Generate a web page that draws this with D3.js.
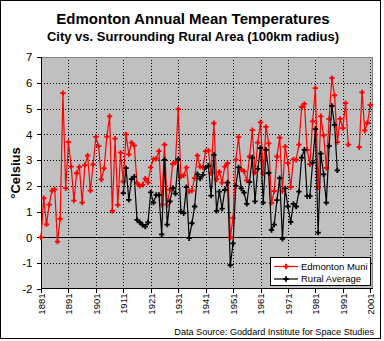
<!DOCTYPE html>
<html>
<head>
<meta charset="utf-8">
<script src="https://cdn.jsdelivr.net/npm/d3@7"></script>
<style>
    body { margin: 0; background: #fff; }
    text { font-family: Arial, "Liberation Sans", sans-serif; fill: #000; }
</style>
</head>
<body>
<div class="chart"></div>
<script>
// Annual mean temperatures (deg C), one value per year
const firstYear = 1881
const lastCategory = 2002
const decadeLabels = [1881, 1891, 1901, 1911, 1921, 1931, 1941, 1951, 1961, 1971, 1981, 1991, 2001]
const yTicks = [-2, -1, 0, 1, 2, 3, 4, 5, 6, 7]

// Edmonton Municipal, 1881-2001 (no record 1994-1996)
const muniValues = [
    0.0, 1.52, 0.51, 1.27, 1.82, 1.86, -0.16, 0.72, 5.6, 1.91,
    3.7, 2.75, 1.43, 2.49, 2.74, 1.35, 2.8, 3.17, 1.82, 2.83,
    3.9, 3.54, 2.25, 2.68, 3.91, 4.7, 1.03, 3.83, 1.26, 3.29,
    2.17, 4.0, 3.22, 3.68, 3.56, 2.12, 2.0, 2.04, 2.28, 2.14,
    2.72, 3.04, 3.06, 3.35, 1.27, 3.6, 1.27, 1.85, 2.85, 2.9,
    4.98, 2.36, 2.41, 2.71, 1.78, 1.82, 2.3, 3.17, 2.75, 2.72,
    3.35, 3.37, 2.5, 4.43, 2.25, 2.54, 2.13, 2.75, 2.88, 0.0,
    0.75, 3.02, 3.89, 2.64, 2.56, 2.21, 3.14, 4.16, 2.52, 3.68,
    4.46, 2.48, 4.29, 3.65, 1.34, 1.8, 3.14, 3.87, 1.8, 3.52,
    2.88, 1.95, 3.03, 3.01, 3.6, 5.06, 5.18, 3.4, 2.84, 4.5,
    5.79, 1.94, 4.7, 3.96, 2.7, 4.6, 6.18, 5.51, 3.7, 4.6,
    4.24, 5.21, 3.6, null, null, null, 3.5, 5.63, 4.15, 4.45,
    5.13
]

// Rural stations within 100km, 1911-1989
const ruralStart = 1911
const ruralValues = [
    1.72, 2.69, 1.46, 2.26, 2.36, 0.68, 0.59, 0.49, 0.42, 0.58,
    1.75, 1.35, 1.65, 1.65, 0.12, 3.01, 0.5, 1.4, 1.91, 1.7,
    3.04, 1.0, 0.94, 1.95, -0.03, 0.55, 1.2, 2.45, 2.28, 2.43,
    2.72, 2.78, 1.62, 3.2, 1.03, 1.78, 1.12, 1.84, 2.13, -1.07,
    -0.23, 2.0, 2.72, 1.9, 1.74, 1.3, 2.15, 3.1, 1.4, 2.66,
    3.47, 1.35, 3.4, 2.5, 0.29, 0.5, 1.45, 2.3, -0.05, 1.9,
    1.2, 0.6, 1.3, 1.2, 1.78, 3.1, 3.4, 1.6, 1.6, 2.9,
    4.2, 0.19, 3.25, 2.45, 1.35, 3.55, 5.1, 4.37, 2.6
]

const seriesNames = ['Edmonton Muni', 'Rural Average']
const seriesColors = ['#ff0000', '#000000']

class TempChart {

    constructor() {
        this.fullWidth = 384
        this.fullHeight = 341
        this.margin = {top: 57, right: 11, bottom: 52, left: 41}
        this.width = this.fullWidth - this.margin.left - this.margin.right
        this.height = this.fullHeight - this.margin.top - this.margin.bottom
        this.series = [
            muniValues.map((v, i) => ({year: firstYear + i, value: v})),
            ruralValues.map((v, i) => ({year: ruralStart + i, value: v}))
        ]
    }

    render() {
        this.svg = d3.select('.chart').append('svg')
            .attr('width', this.fullWidth)
            .attr('height', this.fullHeight)
        this.canvas = this.svg.append('g')
            .attr('transform', `translate(${this.margin.left}, ${this.margin.top})`)
        this.createScales()
        this.createBackground()
        this.createAxes()
        this.createLines()
        this.createLegend()
        this.createTexts()
    }

    createScales() {
        this.xScale = d3.scaleLinear()
            .domain([firstYear, lastCategory])
            .range([0, this.width])
        this.yScale = d3.scaleLinear()
            .domain([d3.min(yTicks), d3.max(yTicks)])
            .range([this.height, 0])
    }

    createBackground() {
        this.canvas.append('rect')
            .attr('width', this.width)
            .attr('height', this.height)
            .style('fill', '#c0c0c0')

        // dotted grid
        this.canvas.append('g')
            .attr('class', 'grid')
            .call(d3.axisLeft(this.yScale).tickValues(yTicks.slice(1, -1)).tickSize(-this.width).tickFormat(''))
        this.canvas.append('g')
            .attr('class', 'grid')
            .attr('transform', `translate(0, ${this.height})`)
            .call(d3.axisBottom(this.xScale).tickValues(decadeLabels.slice(1)).tickSize(-this.height).tickFormat(''))
        this.canvas.selectAll('.grid .domain').remove()
        this.canvas.selectAll('.grid line')
            .attr('stroke', '#000')
            .attr('stroke-dasharray', '1,2')
            .attr('shape-rendering', 'crispEdges')

        // plot frame: grey top/right edge
        this.canvas.append('path')
            .attr('d', `M0.5,0.5H${this.width - 0.5}V${this.height}`)
            .attr('fill', 'none')
            .attr('stroke', '#808080')

        // zero line
        this.canvas.append('line')
            .attr('x1', 0).attr('x2', this.width)
            .attr('y1', Math.round(this.yScale(0)) + 0.5)
            .attr('y2', Math.round(this.yScale(0)) + 0.5)
            .attr('stroke', '#000')
    }

    createAxes() {
        let yAxis = d3.axisLeft(this.yScale)
            .tickValues(yTicks)
            .tickSize(5)
            .tickPadding(4)
            .tickFormat(d => String(d))
        let gy = this.canvas.append('g')
            .attr('transform', 'translate(0.5, 0)')
            .call(yAxis)
        gy.select('.domain').attr('d', `M0,0V${this.height}`)
        gy.selectAll('text').style('font-size', '11.5px')

        let xAxis = d3.axisBottom(this.xScale)
            .tickValues(decadeLabels)
            .tickSize(4)
            .tickFormat(d => String(d))
        let gx = this.canvas.append('g')
            .attr('transform', `translate(0, ${this.height - 0.5})`)
            .call(xAxis)
        gx.select('.domain').attr('d', `M0,0H${this.width}`)
        gx.selectAll('text')
            .style('font-size', '9.5px')
            .style('text-anchor', 'end')
            .attr('transform', 'rotate(-90)')
            .attr('x', -5)
            .attr('y', 0)
            .attr('dy', '0.35em')
        this.canvas.selectAll('.tick line').attr('shape-rendering', 'crispEdges')
    }

    createLines() {
        let line = d3.line()
            .defined(d => d.value !== null)
            .x(d => this.xScale(d.year))
            .y(d => this.yScale(d.value))
        let marker = d3.symbol(d3.symbolCross, 16)

        this.series.forEach((data, i) => {
            let g = this.canvas.append('g')
            g.append('path')
                .attr('d', line(data))
                .attr('fill', 'none')
                .attr('stroke', seriesColors[i])
                .attr('stroke-width', 1.2)
            g.selectAll('path.pt')
                .data(data.filter(d => d.value !== null))
                .join('path')
                    .attr('class', 'pt')
                    .attr('d', marker)
                    .attr('transform', d => `translate(${this.xScale(d.year)}, ${this.yScale(d.value)})`)
                    .attr('fill', seriesColors[i])
        })
    }

    createLegend() {
        let lg = this.svg.append('g').attr('transform', 'translate(270, 257)')
        lg.append('rect')
            .attr('x', 0.5).attr('y', 0.5)
            .attr('width', 100).attr('height', 28)
            .attr('fill', '#fff')
            .attr('stroke', '#000')
        let marker = d3.symbol(d3.symbolCross, 16)
        seriesNames.forEach((name, i) => {
            let cy = 9.5 + i * 12.5
            lg.append('line')
                .attr('x1', 4).attr('x2', 28)
                .attr('y1', cy).attr('y2', cy)
                .attr('stroke', seriesColors[i])
                .attr('stroke-width', 1.2)
            lg.append('path')
                .attr('d', marker)
                .attr('transform', `translate(16, ${cy})`)
                .attr('fill', seriesColors[i])
            lg.append('text')
                .attr('x', 31)
                .attr('y', cy)
                .attr('dy', '0.35em')
                .style('font-size', '9.5px')
                .text(name)
        })
    }

    createTexts() {
        this.svg.append('text')
            .attr('x', 193).attr('y', 24)
            .attr('text-anchor', 'middle')
            .style('font-size', '15px').style('font-weight', 'bold')
            .text('Edmonton Annual Mean Temperatures')
        this.svg.append('text')
            .attr('x', 193).attr('y', 41)
            .attr('text-anchor', 'middle')
            .style('font-size', '13px').style('font-weight', 'bold')
            .text('City vs. Surrounding Rural Area (100km radius)')
        this.svg.append('text')
            .attr('transform', 'translate(20, 173) rotate(-90)')
            .attr('text-anchor', 'middle')
            .style('font-size', '13px').style('font-weight', 'bold')
            .text('°Celsius')
        this.svg.append('text')
            .attr('x', 374).attr('y', 335)
            .attr('text-anchor', 'end')
            .style('font-size', '9.1px')
            .text('Data Source: Goddard Institute for Space Studies')

        // outer frame
        this.svg.append('rect')
            .attr('x', 0.5).attr('y', 0.5)
            .attr('width', 380).attr('height', 338)
            .attr('fill', 'none')
            .attr('stroke', '#000')
    }
}

new TempChart().render()
</script>
</body>
</html>
